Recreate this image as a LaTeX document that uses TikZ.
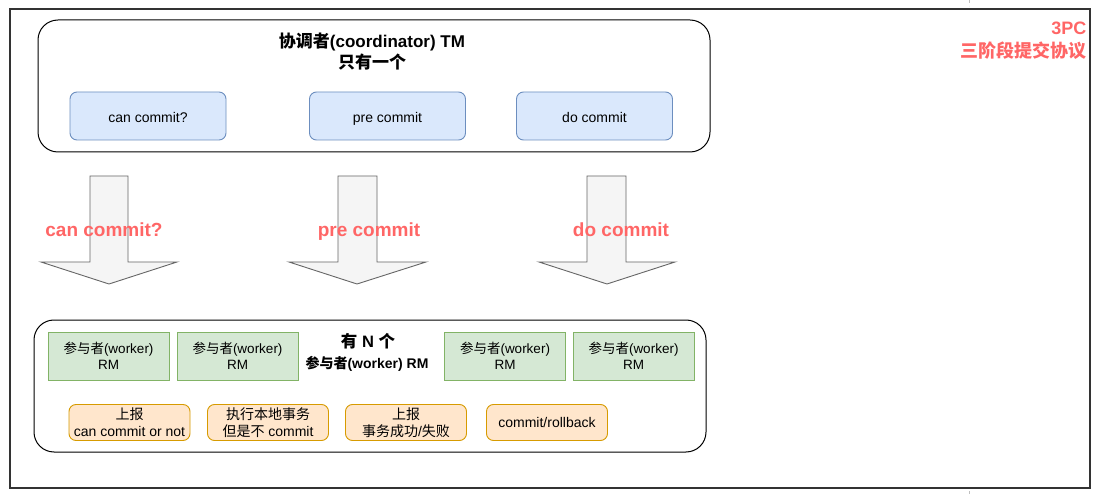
\documentclass[tikz,border=0pt]{standalone}
\usepackage{fontspec}
\setmainfont{Liberation Sans}
\newfontfamily\cjk{Noto Sans CJK SC}
\usepackage{xcolor}
\usepackage{tikz}

\definecolor{blueFill}{HTML}{DAE8FC}
\definecolor{blueLine}{HTML}{6C8EBF}
\definecolor{greenFill}{HTML}{D5E8D4}
\definecolor{greenLine}{HTML}{82B366}
\definecolor{orangeFill}{HTML}{FFE6CC}
\definecolor{orangeLine}{HTML}{D79B00}
\definecolor{arrowFill}{HTML}{F5F5F5}
\definecolor{arrowLine}{HTML}{666666}
\definecolor{redText}{HTML}{FF6666}

\tikzset{
	box/.style={inner sep=0pt, outer sep=0pt, align=center, line width=0.9pt,
		font=\fontsize{14}{17}\selectfont},
	container/.style={box, draw=black, rounded corners=20pt, line width=1pt},
	blueBox/.style={box, draw=blueLine, fill=blueFill, rounded corners=7pt,
		minimum width=156pt, minimum height=48pt, text height=13pt, text depth=0pt},
	greenBox/.style={box, draw=greenLine, fill=greenFill,
		minimum width=121pt, minimum height=48pt, font=\fontsize{13.5}{16}\selectfont},
	orangeBox/.style={box, draw=orangeLine, fill=orangeFill, rounded corners=7pt,
		minimum width=121pt, minimum height=36pt},
	bigArrow/.style={draw=arrowLine, fill=arrowFill, line width=0.9pt},
	redLabel/.style={anchor=base, text=redText, font=\fontsize{19}{21}\selectfont\bfseries},
}

\begin{document}
\begin{tikzpicture}[x=1pt,y=-1pt]
	\useasboundingbox (0,0) rectangle (1101,497);
	\fill[white] (0,0) rectangle (1101,497);
	
	% outer frame
	\draw[line width=1.1pt, black!80] (10,9) rectangle (1090,488);
	\draw[gray!50, dashed] (969,0) -- (969,6);
	\draw[gray!50, dashed] (969,491) -- (969,497);
	
	% coordinator
	\node[container, minimum width=672pt, minimum height=132pt] (coordBox) at (374,86) {};
	\node[align=center, font=\fontsize{17}{21}\selectfont\bfseries] (coordTitle) at (372,52)
		{{\cjk 协调者}(coordinator) TM\\{\cjk 只有一个}};
	\node[blueBox] (canBox) at (148,116) {can commit?};
	\node[blueBox] (preBox) at (387.5,116) {pre commit};
	\node[blueBox] (doBox) at (594.5,116) {do commit};
	
	% arrows
	\draw[bigArrow] (90,176) -- (128,176) -- (128,262) -- (177,262) -- (109,284)
		-- (41,262) -- (90,262) -- cycle;
	\draw[bigArrow] (338,176) -- (377,176) -- (377,262) -- (426,262) -- (357,284)
		-- (289,262) -- (338,262) -- cycle;
	\draw[bigArrow] (587,176) -- (626,176) -- (626,262) -- (675,262) -- (607,284)
		-- (539,262) -- (587,262) -- cycle;
	\node[redLabel] (lblCan) at (104,237) {can commit?};
	\node[redLabel] (lblPre) at (369,237) {pre commit};
	\node[redLabel] (lblDo) at (621,237) {do commit};
	
	% workers
	\node[container, minimum width=672pt, minimum height=132pt] (workerBox) at (370,386) {};
	\node[greenBox] (workerA) at (108.5,356) {{\cjk 参与者}(worker)\\RM};
	\node[greenBox] (workerB) at (237.5,356) {{\cjk 参与者}(worker)\\RM};
	\node[greenBox] (workerC) at (505,356) {{\cjk 参与者}(worker)\\RM};
	\node[greenBox] (workerD) at (633.5,356) {{\cjk 参与者}(worker)\\RM};
	\node[font=\fontsize{16.5}{18}\selectfont\bfseries] (workerTitle) at (368,341) {{\cjk 有} N {\cjk 个}};
	\node[font=\fontsize{14}{16}\selectfont\bfseries] (workerSub) at (367,364) {{\cjk 参与者}(worker) RM};
	
	\node[orangeBox] (stepReport) at (129.5,422.5) {{\cjk 上报}\\can commit or not};
	\node[orangeBox] (stepLocal) at (268,422.5) {{\cjk 执行本地事务}\\{\cjk 但是不} commit};
	\node[orangeBox] (stepResult) at (406,422.5) {{\cjk 上报}\\{\cjk 事务成功}/{\cjk 失败}};
	\node[orangeBox] (stepFinal) at (547,422.5) {commit/rollback};
	
	% title
	\node[anchor=north east, align=right, text=redText,
		font=\fontsize{18}{23}\selectfont\bfseries] (protoTitle) at (1090,18)
		{3PC\\{\cjk 三阶段提交协议}};
\end{tikzpicture}
\end{document}
